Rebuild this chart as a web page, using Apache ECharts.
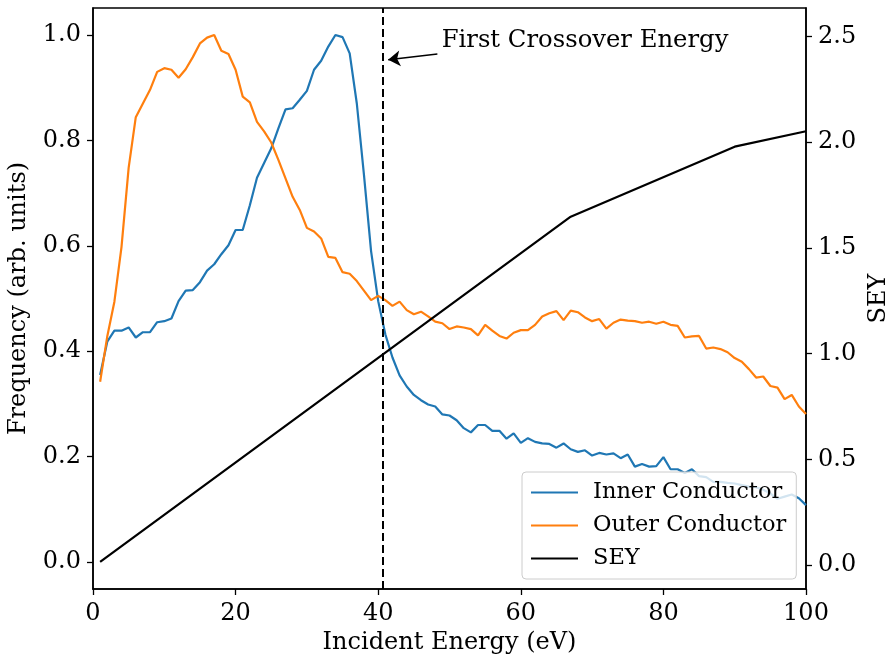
<!DOCTYPE html>
<html>
<head>
<meta charset="utf-8">
<script src="https://cdn.jsdelivr.net/npm/echarts@6/dist/echarts.min.js"></script>
<style>html,body{margin:0;padding:0;background:#fff}#c{width:891px;height:662px}</style>
</head>
<body>
<div id="c"></div>
<script>
const energy = [1,2,3,4,5,6,7,8,9,10,11,12,13,14,15,16,17,18,19,20,21,22,23,24,25,26,27,28,29,30,31,32,33,34,35,36,37,38,39,40,41,42,43,44,45,46,47,48,49,50,51,52,53,54,55,56,57,58,59,60,61,62,63,64,65,66,67,68,69,70,71,72,73,74,75,76,77,78,79,80,81,82,83,84,85,86,87,88,89,90,91,92,93,94,95,96,97,98,99,100];
const innerConductor = [0.355,0.418,0.439,0.439,0.445,0.426,0.436,0.436,0.455,0.457,0.462,0.495,0.515,0.516,0.531,0.553,0.565,0.584,0.601,0.630,0.630,0.677,0.729,0.757,0.785,0.823,0.859,0.861,0.877,0.894,0.934,0.951,0.978,1.000,0.996,0.965,0.870,0.735,0.590,0.495,0.432,0.388,0.354,0.333,0.317,0.307,0.299,0.295,0.280,0.278,0.269,0.254,0.246,0.260,0.260,0.249,0.249,0.234,0.244,0.226,0.235,0.228,0.225,0.224,0.217,0.225,0.214,0.209,0.212,0.202,0.207,0.204,0.206,0.197,0.204,0.181,0.186,0.181,0.182,0.199,0.176,0.176,0.169,0.176,0.163,0.161,0.152,0.152,0.150,0.149,0.146,0.143,0.142,0.137,0.130,0.120,0.124,0.128,0.121,0.108];
const outerConductor = [0.342,0.428,0.494,0.598,0.748,0.844,0.870,0.896,0.930,0.937,0.934,0.919,0.935,0.958,0.984,0.995,1.000,0.970,0.964,0.934,0.883,0.872,0.835,0.817,0.796,0.763,0.728,0.693,0.668,0.634,0.627,0.614,0.579,0.577,0.550,0.547,0.533,0.515,0.497,0.505,0.497,0.486,0.494,0.478,0.470,0.475,0.466,0.456,0.453,0.442,0.447,0.445,0.442,0.430,0.450,0.439,0.429,0.424,0.435,0.440,0.440,0.450,0.466,0.472,0.476,0.459,0.477,0.474,0.464,0.457,0.461,0.443,0.454,0.460,0.458,0.457,0.454,0.456,0.452,0.456,0.450,0.448,0.426,0.428,0.429,0.405,0.407,0.404,0.398,0.387,0.380,0.366,0.350,0.352,0.334,0.331,0.309,0.317,0.295,0.281];
const seyEnergy = [1, 67, 90, 100];
const seyValues = [0.015, 1.648, 1.979, 2.052];
const crossoverEnergy = 40.7;
const arrowTail = [48.3, 0.964];
const arrowHead = [41.4, 0.953];
const annotationText = 'First Crossover Energy';
const xTicks = [0, 20, 40, 60, 80, 100];
const leftTicks = [0.0, 0.2, 0.4, 0.6, 0.8, 1.0];
const rightTicks = [0.0, 0.5, 1.0, 1.5, 2.0, 2.5];

const FONT = 'DejaVu Serif';
const zip = (a, b) => a.map((v, i) => [v, b[i]]);

const chart = echarts.init(document.getElementById('c'), null, {renderer: 'canvas'});
chart.setOption({
  animation: false,
  backgroundColor: '#fff',
  textStyle: {fontFamily: FONT, color: '#000'},
  grid: {left: 93, right: 85, top: 8, bottom: 73, show: true, borderColor: '#000', borderWidth: 1.5, outerBoundsMode: 'none'},
  legend: {
    orient: 'vertical', left: 522, top: 472,
    padding: [9, 10, 9, 9],
    icon: 'rect', itemWidth: 47, itemHeight: 2, itemGap: 10,
    backgroundColor: 'rgba(255,255,255,0.8)', borderColor: '#cccccc', borderWidth: 1, borderRadius: 4,
    textStyle: {fontFamily: FONT, fontSize: 22.5, color: '#000', lineHeight: 22, padding: [0, 0, 0, 10]},
    data: ['Inner Conductor', 'Outer Conductor', 'SEY']
  },
  xAxis: {
    type: 'value', min: 0, max: 100, interval: 20,
    name: 'Incident Energy (eV)', nameLocation: 'middle', nameGap: 36,
    nameTextStyle: {fontFamily: FONT, fontSize: 24, color: '#000'},
    axisLine: {show: true, onZero: false, lineStyle: {color: '#000', width: 1.5}},
    axisTick: {show: true, inside: false, length: 6, lineStyle: {color: '#000', width: 1.3}},
    axisLabel: {fontFamily: FONT, fontSize: 24, color: '#000', margin: 13},
    splitLine: {show: false}
  },
  yAxis: [{
    type: 'value', min: -0.0512, max: 1.0512, position: 'left',
    name: 'Frequency (arb. units)', nameLocation: 'middle', nameGap: 62, nameRotate: 90,
    nameTextStyle: {fontFamily: FONT, fontSize: 24, color: '#000'},
    axisLine: {show: true, onZero: false, lineStyle: {color: '#000', width: 1.5}},
    axisTick: {show: true, length: 6, lineStyle: {color: '#000', width: 1.3}, customValues: leftTicks},
    axisLabel: {fontFamily: FONT, fontSize: 24, color: '#000', margin: 12, customValues: leftTicks, formatter: v => v.toFixed(1)},
    splitLine: {show: false}
  }, {
    type: 'value', min: -0.1135, max: 2.635, position: 'right',
    name: 'SEY', nameLocation: 'middle', nameGap: 60, nameRotate: 90,
    nameTextStyle: {fontFamily: FONT, fontSize: 24, color: '#000'},
    axisLine: {show: true, onZero: false, lineStyle: {color: '#000', width: 1.5}},
    axisTick: {show: true, length: 6, lineStyle: {color: '#000', width: 1.3}, customValues: rightTicks},
    axisLabel: {fontFamily: FONT, fontSize: 24, color: '#000', margin: 12, customValues: rightTicks, formatter: v => v.toFixed(1)},
    splitLine: {show: false}
  }],
  series: [{
    name: 'Inner Conductor', type: 'line', yAxisIndex: 0, symbol: 'none',
    data: zip(energy, innerConductor),
    lineStyle: {color: '#1f77b4', width: 2.2}, itemStyle: {color: '#1f77b4'},
    markLine: {
      silent: true, symbol: ['none', 'none'], label: {show: false},
      lineStyle: {color: '#000', type: [8, 4], width: 2},
      data: [{xAxis: crossoverEnergy}]
    }
  }, {
    name: 'Outer Conductor', type: 'line', yAxisIndex: 0, symbol: 'none',
    data: zip(energy, outerConductor),
    lineStyle: {color: '#ff7f0e', width: 2.2}, itemStyle: {color: '#ff7f0e'},
    markLine: {
      silent: true, label: {show: false},
      symbol: ['none', 'arrow'], symbolSize: [12, 12],
      lineStyle: {color: '#000', type: 'solid', width: 1.5},
      data: [[{coord: arrowTail}, {coord: arrowHead}]]
    },
    markPoint: {
      silent: true, symbol: 'rect', symbolSize: 0,
      label: {show: true, position: 'right', distance: 0, formatter: annotationText, fontFamily: FONT, fontSize: 24.3, color: '#000'},
      data: [{coord: [48.9, 0.990]}]
    }
  }, {
    name: 'SEY', type: 'line', yAxisIndex: 1, symbol: 'none',
    data: zip(seyEnergy, seyValues),
    lineStyle: {color: '#000', width: 2.2}, itemStyle: {color: '#000'}
  }]
});
</script>
</body>
</html>
